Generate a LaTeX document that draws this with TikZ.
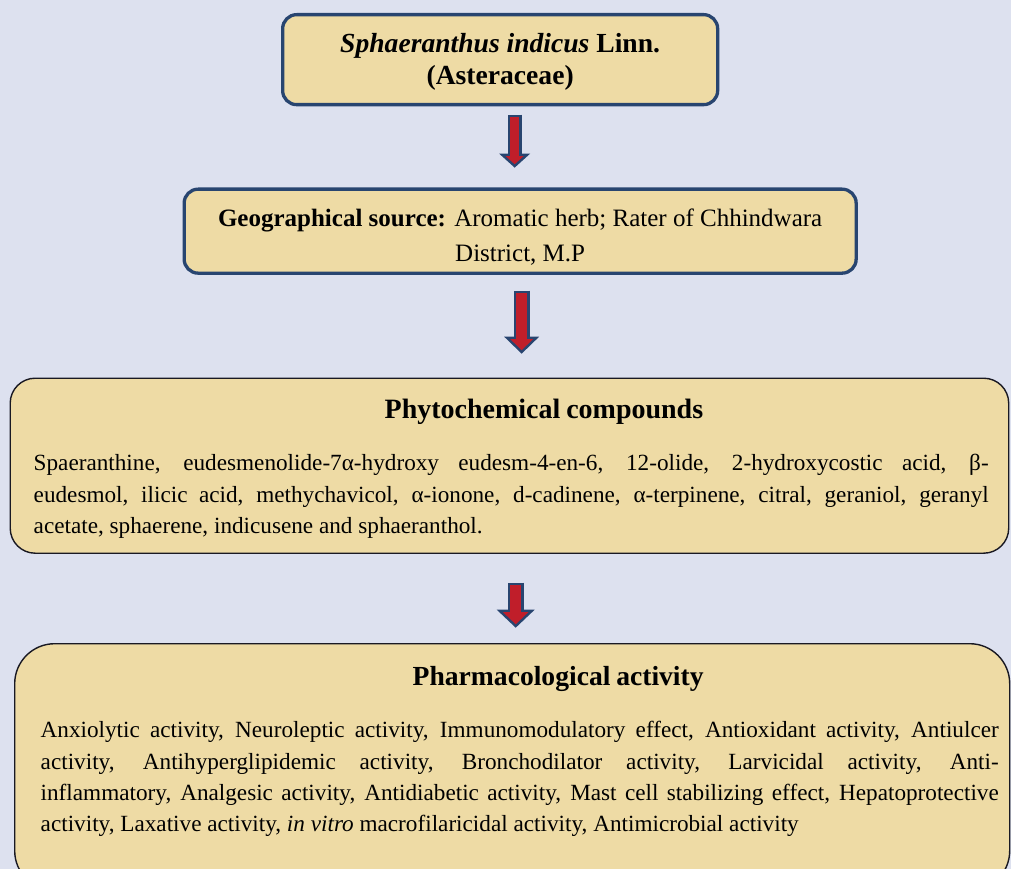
\documentclass[tikz,border=0pt]{standalone}
\usepackage{fontspec}
\setmainfont{Liberation Serif}
\usetikzlibrary{arrows.meta}
\definecolor{bgblue}{RGB}{221,225,239}
\definecolor{parch}{RGB}{238,219,165}
\definecolor{navy}{RGB}{40,69,112}
\definecolor{arrowred}{RGB}{192,30,42}
\definecolor{darkline}{RGB}{25,25,35}
\newcommand\TxtLine[3]{\hbox to \linewidth{\hskip#1\hbox to #2{#3}\hfil}}
\newcommand\Strut[1]{\rule[-10pt]{0pt}{\dimexpr#1+10pt\relax}}
\newcommand\BodyStrut{\Strut{21.3pt}}
\newcommand\BodyFont{\fontsize{23.2pt}{31.3pt}\selectfont\spaceskip=0.25em plus 0.8em minus 0.14em\relax}
\begin{document}
\begin{tikzpicture}[x=1pt,y=-1pt,
 titlebox/.style={draw=navy, line width=3.3pt, fill=parch, rounded corners=14pt, inner sep=0pt, anchor=north west},
 textbox/.style={draw=darkline, line width=1.4pt, fill=parch, inner sep=0pt, anchor=north west},
 arrowout/.style n args={3}{draw=navy, line width=#1, -{Triangle[width=#2,length=#3,line width=0pt]}},
 arrowin/.style n args={3}{draw=arrowred, line width=#1, -{Triangle[width=#2,length=#3,line width=0pt]}},
]
\clip (0,0) rectangle (1011,869);
\fill[bgblue] (0,0) rectangle (1011,869);

\node[titlebox] (box1) at (281,13) {\parbox[t][90pt][t]{435pt}{\offinterlineskip\fontsize{27.6pt}{32pt}\selectfont\bfseries
\TxtLine{0pt}{435pt}{\hfil\Strut{38pt}\textit{Sphaeranthus indicus} Linn.\hfil}
\TxtLine{0pt}{435pt}{\hfil\Strut{22pt}(Asteraceae)\hfil}}};

\node[titlebox] (box2) at (182.5,187.5) {\parbox[t][84pt][t]{672pt}{\offinterlineskip\fontsize{25pt}{35pt}\selectfont
\TxtLine{0pt}{672pt}{\hfil\Strut{37.5pt}\textbf{Geographical source:} Aromatic herb; Rater of Chhindwara\hfil}
\TxtLine{0pt}{672pt}{\hfil\Strut{25pt}District, M.P\hfil}}};

\node[textbox, rounded corners=25pt] (box3) at (9.5,377.5) {\parbox[t][175pt][t]{998.5pt}{\offinterlineskip\BodyFont
\TxtLine{23.5pt}{955pt}{\hspace*{351pt}\Strut{40.5pt}{\fontsize{28pt}{30pt}\selectfont\bfseries Phytochemical compounds}\hfil}
\TxtLine{23.5pt}{955pt}{\Strut{42pt}Spaeranthine, eudesmenolide-7α-hydroxy eudesm-4-en-6, 12-olide, 2-hydroxycostic acid, β-}
\TxtLine{23.5pt}{955pt}{\BodyStrut eudesmol, ilicic acid, methychavicol, α-ionone, d-cadinene, α-terpinene, citral, geraniol, geranyl}
\TxtLine{23.5pt}{955pt}{\BodyStrut acetate, sphaerene, indicusene and sphaeranthol.\hfil}}};

\node[textbox, rounded corners=40pt] (box4) at (14,643) {\parbox[t][247pt][t]{995pt}{\offinterlineskip\BodyFont
\TxtLine{26pt}{958pt}{\hspace*{372pt}\Strut{42pt}{\fontsize{27.6pt}{30pt}\selectfont\bfseries Pharmacological activity}\hfil}
\TxtLine{26pt}{958pt}{\Strut{42pt}Anxiolytic activity, Neuroleptic activity, Immunomodulatory effect, Antioxidant activity, Antiulcer}
\TxtLine{26pt}{958pt}{\BodyStrut activity, Antihyperglipidemic activity, Bronchodilator activity, Larvicidal activity, Anti-}
\TxtLine{26pt}{958pt}{\BodyStrut inflammatory, Analgesic activity, Antidiabetic activity, Mast cell stabilizing effect, Hepatoprotective}
\TxtLine{26pt}{958pt}{\BodyStrut activity, Laxative activity, \textit{in vitro} macrofilaricidal activity, Antimicrobial activity\hfil}}};

% arrow 1
\coordinate (a1) at ([xshift=14.5pt]box1.south);
\draw[arrowout={14pt}{31pt}{14pt}, shorten <=8.35pt, shorten >=19.85pt] (a1) -- (a1 |- box2.north);
\draw[arrowin={9pt}{18pt}{8.1pt}, shorten <=10.85pt, shorten >=23.25pt] (a1) -- (a1 |- box2.north);
% arrow 2
\coordinate (a2) at ([xshift=1.5pt]box2.south);
\draw[arrowout={16pt}{35pt}{17pt}, shorten <=15.85pt, shorten >=23.8pt] (a2) -- (a2 |- box3.north);
\draw[arrowin={11pt}{22.6pt}{11pt}, shorten <=18.35pt, shorten >=27.3pt] (a2) -- (a2 |- box3.north);
% arrow 3
\coordinate (a3) at ([xshift=6.25pt]box3.south);
\draw[arrowout={16pt}{38pt}{18pt}, shorten <=28.8pt, shorten >=15.3pt] (a3) -- (a3 |- box4.north);
\draw[arrowin={11pt}{25.4pt}{12.05pt}, shorten <=31.3pt, shorten >=18.75pt] (a3) -- (a3 |- box4.north);
\end{tikzpicture}
\end{document}
